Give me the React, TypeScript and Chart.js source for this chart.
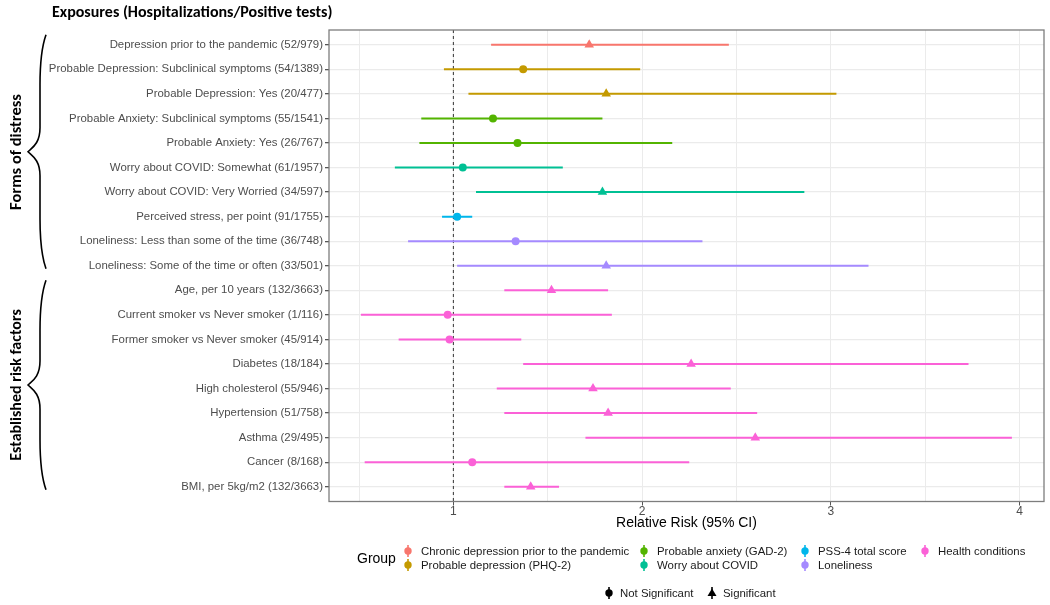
import React, { useEffect, useRef } from "react";
import { Chart, registerables } from "chart.js";

Chart.register(...registerables);

// ---------------- data ----------------
const rowLabels = [
  "Depression prior to the pandemic (52/979)",
  "Probable Depression: Subclinical symptoms (54/1389)",
  "Probable Depression: Yes (20/477)",
  "Probable Anxiety: Subclinical symptoms (55/1541)",
  "Probable Anxiety: Yes (26/767)",
  "Worry about COVID: Somewhat (61/1957)",
  "Worry about COVID: Very Worried (34/597)",
  "Perceived stress, per point (91/1755)",
  "Loneliness: Less than some of the time (36/748)",
  "Loneliness: Some of the time or often (33/501)",
  "Age, per 10 years (132/3663)",
  "Current smoker vs Never smoker (1/116)",
  "Former smoker vs Never smoker (45/914)",
  "Diabetes (18/184)",
  "High cholesterol (55/946)",
  "Hypertension (51/758)",
  "Asthma (29/495)",
  "Cancer (8/168)",
  "BMI, per 5kg/m2 (132/3663)",
];

const estimates = [
  1.72, 1.37, 1.81, 1.21, 1.34, 1.05, 1.79, 1.02, 1.33, 1.81,
  1.52, 0.97, 0.98, 2.26, 1.74, 1.82, 2.6, 1.1, 1.41,
];
const lowerCI = [
  1.2, 0.95, 1.08, 0.83, 0.82, 0.69, 1.12, 0.94, 0.76, 1.02,
  1.27, 0.51, 0.71, 1.37, 1.23, 1.27, 1.7, 0.53, 1.27,
];
const upperCI = [
  2.46, 1.99, 3.03, 1.79, 2.16, 1.58, 2.86, 1.1, 2.32, 3.2,
  1.82, 1.84, 1.36, 3.73, 2.47, 2.61, 3.96, 2.25, 1.56,
];
const rowGroup = [0, 1, 1, 2, 2, 3, 3, 4, 5, 5, 6, 6, 6, 6, 6, 6, 6, 6, 6];
const significant = [
  true, false, true, false, false, false, true, false, false, true,
  true, false, false, true, true, true, true, false, true,
];

const groupNames = [
  "Chronic depression prior to the pandemic",
  "Probable depression (PHQ-2)",
  "Probable anxiety (GAD-2)",
  "Worry about COVID",
  "PSS-4 total score",
  "Loneliness",
  "Health conditions",
];
const groupColors = [
  "#F8766D",
  "#C49A00",
  "#53B400",
  "#00C094",
  "#00B6EB",
  "#A58AFF",
  "#FB61D7",
];
const shapeNames = ["Not Significant", "Significant"];

const xTicks = [0.5, 1, 1.5, 2, 2.5, 3, 3.5, 4];
const referenceValue = 1;
const sectionNames = ["Forms of distress", "Established risk factors"];

const chartTitle = "Exposures (Hospitalizations/Positive tests)";
const xAxisTitle = "Relative Risk (95% CI)";
const legendTitle = "Group";

// ---------------- layout constants ----------------
const W = 1050;
const H = 605;
const AREA = { left: 329, right: 1044, top: 30, bottom: 501.5 };
const X_MIN = 0.341;
const X_MAX = 4.13;
const Y_MIN = 0.4;
const Y_MAX = rowLabels.length + 0.6;

const LABEL_FONT = "'Liberation Sans', Arial, sans-serif";
const BOLD_FONT = "Carlito, Lato, 'Open Sans', sans-serif";

const panelBorder = {
  id: "panelBorder",
  afterDraw(chart: any) {
    const { ctx, chartArea } = chart;
    ctx.save();
    ctx.strokeStyle = "#7d7d7d";
    ctx.lineWidth = 1.3;
    ctx.strokeRect(
      chartArea.left,
      chartArea.top,
      chartArea.right - chartArea.left,
      chartArea.bottom - chartArea.top
    );
    ctx.restore();
  },
};

function ForestChart() {
  const ref = useRef<HTMLCanvasElement | null>(null);
  useEffect(() => {
    if (!ref.current) return;
    const datasets: any[] = [];
    datasets.push({
      type: "line",
      data: [
        { x: referenceValue, y: Y_MIN },
        { x: referenceValue, y: Y_MAX },
      ],
      borderColor: "#333333",
      borderWidth: 1,
      borderDash: [3, 3],
      pointRadius: 0,
      order: 100,
    });
    rowLabels.forEach((_, i) => {
      const c = groupColors[rowGroup[i]];
      datasets.push({
        type: "line",
        data: [
          { x: lowerCI[i], y: i + 1 },
          { x: upperCI[i], y: i + 1 },
        ],
        borderColor: c,
        borderWidth: 2,
        pointRadius: 0,
        order: 50,
      });
      datasets.push({
        type: "scatter",
        data: [{ x: estimates[i], y: i + 1 }],
        pointStyle: significant[i] ? "triangle" : "circle",
        pointRadius: significant[i] ? 5.5 : 4,
        backgroundColor: c,
        borderColor: c,
        borderWidth: 0,
        order: 1,
      });
    });

    const chart = new Chart(ref.current, {
      type: "scatter",
      data: { datasets },
      plugins: [panelBorder],
      options: {
        animation: false,
        responsive: false,
        maintainAspectRatio: false,
        events: [],
        layout: {
          padding: {
            left: 0,
            top: AREA.top,
            right: W - AREA.right,
            bottom: H - AREA.bottom - 30,
          },
        },
        plugins: {
          legend: { display: false },
          tooltip: { enabled: false },
          title: { display: false },
        },
        scales: {
          x: {
            type: "linear",
            min: X_MIN,
            max: X_MAX,
            afterBuildTicks: (scale: any) => {
              scale.ticks = xTicks.map((v) => ({ value: v }));
            },
            afterFit: (scale: any) => {
              scale.height = 30;
            },
            border: { display: false },
            grid: {
              color: "#EBEBEB",
              lineWidth: 1,
              tickLength: 4,
              tickColor: (ctx: any) =>
                ctx.tick && Number.isInteger(ctx.tick.value)
                  ? "#555555"
                  : "rgba(0,0,0,0)",
            },
            ticks: {
              autoSkip: false,
              maxRotation: 0,
              padding: -1,
              color: "#4D4D4D",
              font: { family: LABEL_FONT, size: 12 },
              callback: (v: any) =>
                Number.isInteger(Number(v)) ? String(v) : "",
            },
            title: {
              display: true,
              text: xAxisTitle,
              color: "#000000",
              font: { family: LABEL_FONT, size: 14 },
              padding: { top: 0, bottom: 0 },
            },
          },
          y: {
            type: "linear",
            min: Y_MIN,
            max: Y_MAX,
            reverse: true,
            afterBuildTicks: (scale: any) => {
              scale.ticks = rowLabels.map((_, i) => ({ value: i + 1 }));
            },
            afterFit: (scale: any) => {
              scale.width = AREA.left;
            },
            border: { display: false },
            grid: {
              color: "#EBEBEB",
              lineWidth: 1.3,
              tickLength: 4,
              tickColor: "#555555",
            },
            ticks: {
              autoSkip: false,
              padding: 2,
              color: "#4D4D4D",
              font: { family: LABEL_FONT, size: 11.4 },
              callback: (v: any) => rowLabels[Math.round(Number(v)) - 1] ?? "",
            },
          },
        },
      },
    });
    return () => chart.destroy();
  }, []);
  return (
    <canvas
      ref={ref}
      width={W}
      height={H}
      style={{ position: "absolute", left: 0, top: 0, width: W, height: H }}
    />
  );
}

function Brace({ top, bottom }: { top: number; bottom: number }) {
  const mid = (top + bottom) / 2;
  const xr = 46;
  const xm = 40;
  const xt = 28;
  const d = `M${xr},${top} C${xm + 1},${top + 14} ${xm},${top + 30} ${xm},${top + 50}
    L${xm},${mid - 24} C${xm},${mid - 8} ${xt + 4},${mid - 4} ${xt},${mid}
    C${xt + 4},${mid + 4} ${xm},${mid + 8} ${xm},${mid + 24}
    L${xm},${bottom - 50} C${xm},${bottom - 30} ${xm + 1},${bottom - 14} ${xr},${bottom}`;
  return <path d={d} fill="none" stroke="#000" strokeWidth={1.6} />;
}

function KeyGlyph({ color, shape }: { color: string; shape: string }) {
  return (
    <svg width={10} height={14} style={{ display: "block" }}>
      <line x1={5} y1={1} x2={5} y2={13} stroke={color} strokeWidth={1.6} />
      {shape === "triangle" ? (
        <polygon points="5,2.5 9.5,10 0.5,10" fill={color} />
      ) : (
        <circle cx={5} cy={7} r={3.7} fill={color} />
      )}
    </svg>
  );
}

export default function App() {
  const sectionRows = [
    [0, 9],
    [10, 18],
  ];
  const rowH = (AREA.bottom - AREA.top) / (Y_MAX - Y_MIN);
  const rowY = (i: number) => AREA.top + (i + 1 - Y_MIN) * rowH;

  const colX = [408, 644, 805, 925];
  const legRowY = [551, 565];

  return (
    <div
      style={{
        position: "fixed",
        left: 0,
        top: 0,
        width: W,
        height: H,
        background: "#fff",
        overflow: "hidden",
      }}
    >
      <ForestChart />
      <div
        style={{
          position: "absolute",
          left: 52,
          top: 2,
          font: `bold 16px ${BOLD_FONT}`,
          color: "#000",
          whiteSpace: "nowrap",
          lineHeight: "20px",
        }}
      >
        {chartTitle}
      </div>
      <svg
        width={W}
        height={H}
        style={{ position: "absolute", left: 0, top: 0, pointerEvents: "none" }}
      >
        {sectionRows.map(([a, b], k) => (
          <Brace key={k} top={rowY(a) - 10} bottom={rowY(b) + 3} />
        ))}
      </svg>
      {sectionNames.map((name, k) => {
        const [a, b] = sectionRows[k];
        const cy = (rowY(a) - 10 + rowY(b) + 3) / 2;
        return (
          <div
            key={name}
            style={{
              position: "absolute",
              left: 15,
              top: cy,
              transform: "translate(-50%, -50%) rotate(-90deg)",
              font: `bold ${k === 0 ? 16.5 : 16} px ${BOLD_FONT}`.replace(" px", "px"),
              whiteSpace: "nowrap",
              color: "#000",
            }}
          >
            {name}
          </div>
        );
      })}
      <div
        style={{
          position: "absolute",
          left: 357,
          top: 558 - 9,
          font: `14px ${LABEL_FONT}`,
          lineHeight: "18px",
          color: "#000",
        }}
      >
        {legendTitle}
      </div>
      {groupNames.map((name, g) => {
        const col = Math.floor(g / 2);
        const r = g % 2;
        return (
          <div
            key={name}
            style={{
              position: "absolute",
              left: colX[col] - 5,
              top: legRowY[r] - 7,
              display: "flex",
              alignItems: "center",
              height: 14,
              whiteSpace: "nowrap",
            }}
          >
            <KeyGlyph color={groupColors[g]} shape="circle" />
            <span
              style={{
                marginLeft: 8,
                font: `11.4px ${LABEL_FONT}`,
                color: "#1a1a1a",
              }}
            >
              {name}
            </span>
          </div>
        );
      })}
      {shapeNames.map((name, s) => (
        <div
          key={name}
          style={{
            position: "absolute",
            left: (s === 0 ? 609 : 712) - 5,
            top: 593 - 7,
            display: "flex",
            alignItems: "center",
            height: 14,
            whiteSpace: "nowrap",
          }}
        >
          <KeyGlyph color="#000" shape={s === 0 ? "circle" : "triangle"} />
          <span
            style={{
              marginLeft: 6,
              font: `11.4px ${LABEL_FONT}`,
              color: "#1a1a1a",
            }}
          >
            {name}
          </span>
        </div>
      ))}
    </div>
  );
}
